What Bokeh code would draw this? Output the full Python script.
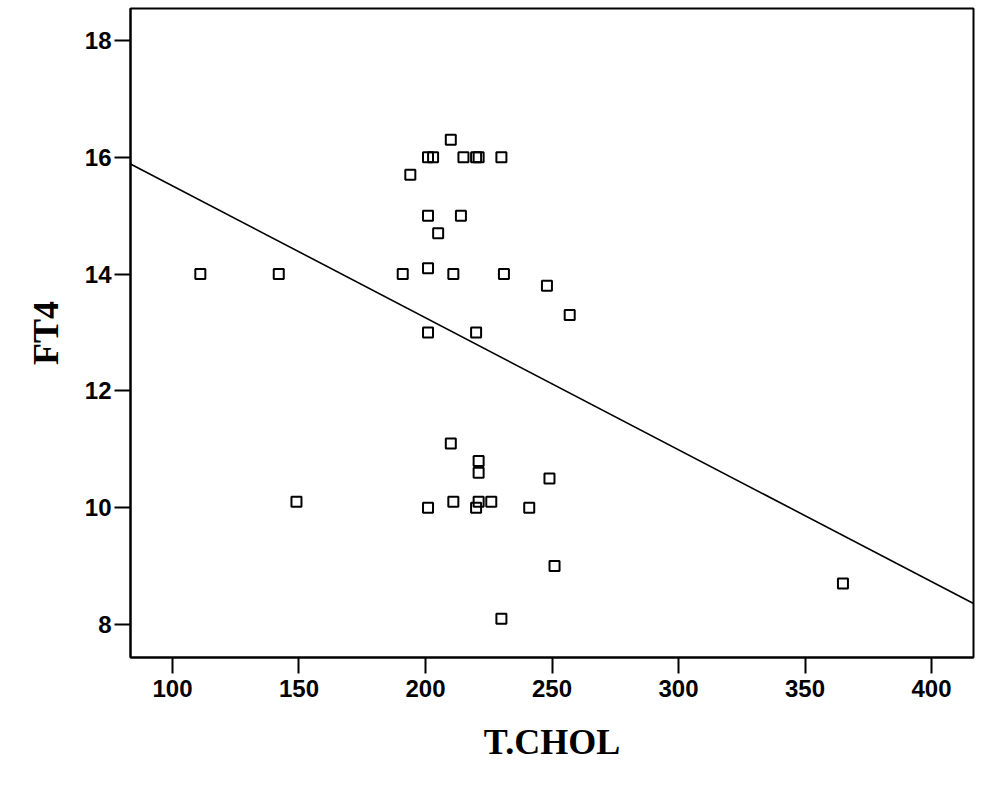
from bokeh.plotting import figure
from bokeh.models import Range1d, FixedTicker
from bokeh.embed import file_html
from bokeh.resources import INLINE

# Data
x_chol = [111, 142, 149, 194, 201, 203, 210, 215, 220, 221, 230, 201, 214, 205,
          191, 201, 211, 231, 248, 257, 201, 220, 210, 221, 221, 249, 201, 211,
          221, 220, 226, 241, 251, 230, 365]
y_ft4 = [14, 14, 10.1, 15.7, 16, 16, 16.3, 16, 16, 16, 16, 15, 15, 14.7,
         14, 14.1, 14, 14, 13.8, 13.3, 13, 13, 11.1, 10.8, 10.6, 10.5, 10, 10.1,
         10.1, 10, 10.1, 10, 9.0, 8.1, 8.7]

fit_intercept = 17.77
fit_slope = -0.02259

x_ticks = [100, 150, 200, 250, 300, 350, 400]
y_ticks = [8, 10, 12, 14, 16, 18]
x_lo, x_hi = 83.4, 416.6
y_lo, y_hi = 7.435, 18.547

p = figure(frame_width=843, frame_height=649, output_backend="svg",
           toolbar_location=None, x_range=Range1d(x_lo, x_hi),
           y_range=Range1d(y_lo, y_hi),
           min_border_left=130, min_border_top=8, min_border_right=5,
           min_border_bottom=5)

p.background_fill_color = "white"
p.border_fill_color = "white"
p.outline_line_color = "black"
p.outline_line_width = 2
p.xgrid.visible = False
p.ygrid.visible = False

fit_x = [x_lo, x_hi]
fit_y = [fit_intercept + fit_slope * v for v in fit_x]
p.line(fit_x, fit_y, line_color="black", line_width=1.6)

p.scatter(x_chol, y_ft4, marker="square", size=10, fill_color="white",
          fill_alpha=0.0, line_color="black", line_width=2)

for ax in (p.xaxis[0], p.yaxis[0]):
    ax.axis_line_color = "black"
    ax.axis_line_width = 2
    ax.major_tick_line_color = "black"
    ax.major_tick_line_width = 2
    ax.major_tick_out = 16
    ax.major_tick_in = 0
    ax.minor_tick_line_color = None
    ax.major_label_text_font = "Liberation Sans"
    ax.major_label_text_font_style = "bold"
    ax.major_label_text_font_size = "24px"
    ax.major_label_text_color = "black"
    ax.axis_label_text_font = "Liberation Serif"
    ax.axis_label_text_font_style = "bold"
    ax.axis_label_text_font_size = "36px"
    ax.axis_label_text_color = "black"

p.xaxis.ticker = FixedTicker(ticks=x_ticks)
p.yaxis.ticker = FixedTicker(ticks=y_ticks)
p.xaxis.axis_label = "T.CHOL"
p.yaxis.axis_label = "FT4"
p.xaxis.major_label_standoff = 6
p.yaxis.major_label_standoff = 3
p.xaxis.axis_label_standoff = 22
p.yaxis.axis_label_standoff = 16

open("out.html", "w").write(file_html(p, INLINE))
